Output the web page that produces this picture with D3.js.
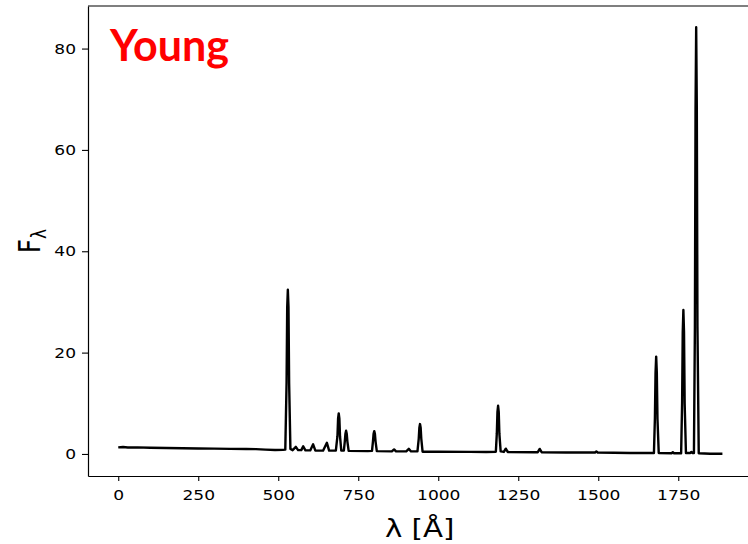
<!DOCTYPE html>
<html>
<head>
<meta charset="utf-8">
<script src="https://cdn.jsdelivr.net/npm/d3@7"></script>
<style>
  html, body { margin: 0; padding: 0; background: #fff; }
  svg { display: block; }
</style>
</head>
<body>
<svg id="chart" width="748" height="544"></svg>
<script>
// ---- data ----
const wavelength = [
  0, 15, 30, 60, 100, 150, 200, 250, 300, 350, 400, 430, 460, 490, 515,
  522, 526, 528, 530, 532, 534, 538, 545, 555, 562, 572, 578, 585, 600, 609,
  616, 640, 652, 659, 680, 685, 687, 689, 691, 693, 697, 705, 708, 710, 712,
  714, 716, 720, 780, 793, 796, 798, 800, 802, 804, 808, 855, 862, 868, 900,
  908, 915, 935, 939, 941, 943, 945, 947, 951, 1000, 1100, 1150, 1180, 1183, 1185,
  1187, 1189, 1191, 1195, 1205, 1211, 1217, 1300, 1311, 1317, 1323, 1400, 1490, 1494, 1498,
  1600, 1674, 1677, 1679, 1681, 1683, 1685, 1689, 1730, 1733, 1736, 1759, 1762, 1764, 1766,
  1768, 1770, 1774, 1788, 1791, 1794, 1799, 1802, 1804, 1806, 1808, 1810, 1814, 1850, 1888
];
const flux = [
  1.30, 1.38, 1.28, 1.30, 1.22, 1.18, 1.12, 1.08, 1.05, 1.00, 0.98, 0.95, 0.85, 0.78, 0.80,
  0.85, 14.0, 29.0, 32.4, 29.0, 14.0, 1.00, 0.75, 1.40, 0.75, 0.75, 1.50, 0.70, 0.70, 1.90,
  0.65, 0.65, 2.20, 0.65, 0.65, 3.50, 7.00, 8.00, 7.00, 3.50, 0.65, 0.65, 2.50, 4.00, 4.60,
  4.00, 2.50, 0.60, 0.55, 0.60, 2.50, 4.00, 4.50, 4.00, 2.50, 0.55, 0.50, 0.90, 0.50, 0.50,
  1.00, 0.50, 0.50, 3.00, 5.20, 5.90, 5.20, 3.00, 0.45, 0.45, 0.42, 0.40, 0.45, 4.00, 8.30,
  9.50, 8.30, 4.00, 0.50, 0.40, 1.05, 0.40, 0.35, 0.35, 1.00, 0.35, 0.30, 0.30, 0.50, 0.30,
  0.20, 0.20, 7.00, 16.0, 19.2, 16.0, 7.00, 0.20, 0.15, 0.35, 0.15, 0.15, 10.0, 24.0, 28.4,
  24.0, 10.0, 0.20, 0.20, 0.40, 0.20, 0.20, 25.0, 68.0, 84.2, 68.0, 25.0, 0.15, 0.05, 0.05
];
const xTicks = [0, 250, 500, 750, 1000, 1250, 1500, 1750];
const yTicks = [0, 20, 40, 60, 80];
const xDomain = [-94.5, 1984.5];
const yDomain = [-4.35, 88.4];
const labelText = "Young";

// ---- drawing ----
(function () {
const svg = d3.select("#chart");
const mLeft = 88, mRight = 753.3, mTop = 6, mBottom = 476;
const SX = 1.22; // horizontal glyph stretch seen in the reference

const x = d3.scaleLinear().domain(xDomain).range([mLeft, mRight]);
const y = d3.scaleLinear().domain(yDomain).range([mBottom, mTop]);

const pts = wavelength.map((w, i) => [w, flux[i]]);

svg.append("path")
  .datum(pts)
  .attr("fill", "none")
  .attr("stroke", "#000")
  .attr("stroke-width", 2.4)
  .attr("stroke-linejoin", "round")
  .attr("d", d3.line().x(d => x(d[0])).y(d => y(d[1])));

// axes
const font = "'DejaVu Sans', sans-serif";
const xAxis = svg.append("g")
  .attr("transform", `translate(0,${mBottom})`)
  .call(d3.axisBottom(x).tickValues(xTicks).tickFormat(d3.format("d")).tickSize(5).tickSizeOuter(0).tickPadding(9));
const yAxis = svg.append("g")
  .attr("transform", `translate(${mLeft},0)`)
  .call(d3.axisLeft(y).tickValues(yTicks).tickFormat(d3.format("d")).tickSize(6).tickSizeOuter(0).tickPadding(6));

[xAxis, yAxis].forEach(g => {
  g.select(".domain").attr("stroke", "#000").attr("stroke-width", 1.2);
  g.selectAll(".tick line").attr("stroke", "#000").attr("stroke-width", 1.1);
  g.selectAll(".tick text")
    .attr("fill", "#000")
    .style("font-family", font)
    .style("font-size", "14px");
});
yAxis.selectAll(".tick text").each(function () {
  const t = d3.select(this);
  const xv = +t.attr("x");
  t.attr("x", xv / SX).attr("transform", `scale(${SX},1)`);
});
xAxis.selectAll(".tick text").attr("transform", `scale(${SX},1)`);

// top and right spines
svg.append("line").attr("x1", mLeft).attr("x2", mRight).attr("y1", mTop).attr("y2", mTop)
  .attr("stroke", "#000").attr("stroke-width", 1.2);
svg.append("line").attr("x1", mRight).attr("x2", mRight).attr("y1", mTop).attr("y2", mBottom)
  .attr("stroke", "#000").attr("stroke-width", 1.2);

// axis titles
svg.append("text")
  .attr("transform", `translate(${(mLeft + mRight) / 2 - 1},537) scale(${SX},1)`)
  .attr("text-anchor", "middle")
  .style("font-family", font)
  .style("font-size", "24px")
  .text("λ [Å]");

const yl = svg.append("text")
  .attr("transform", `translate(40,${(mTop + mBottom) / 2}) scale(${SX},1) rotate(-90)`)
  .attr("text-anchor", "middle")
  .style("font-family", font)
  .style("font-size", "24px");
yl.append("tspan").text("F");
yl.append("tspan").attr("dy", 5).style("font-size", "17px").text("λ");

// panel label
svg.append("text")
  .attr("x", 110).attr("y", 61)
  .attr("textLength", 119)
  .attr("lengthAdjust", "spacingAndGlyphs")
  .attr("fill", "#ff0000")
  .style("font-family", "Lato, 'Open Sans', sans-serif")
  .style("font-weight", "bold")
  .style("font-size", "43px")
  .text(labelText);
})();
</script>
</body>
</html>
